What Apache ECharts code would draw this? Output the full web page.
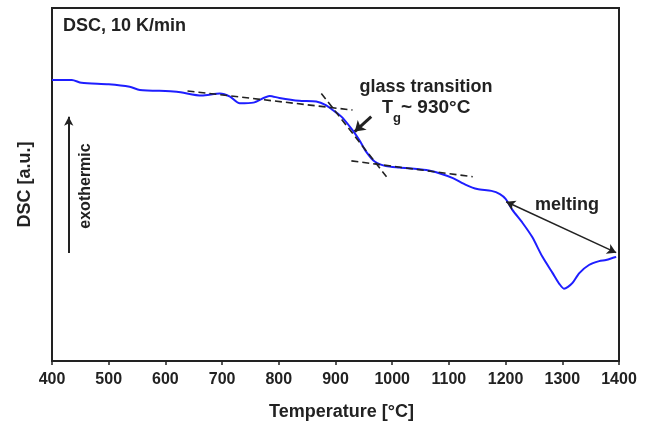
<!DOCTYPE html>
<html>
<head>
<meta charset="utf-8">
<script src="https://cdn.jsdelivr.net/npm/echarts@6/dist/echarts.min.js"></script>
<style>
html,body{margin:0;padding:0;background:#fff;}
#chart{width:651px;height:428px;}
</style>
</head>
<body>
<div id="chart"></div>
<script>
// Temperature [°C] and DSC signal [a.u.]
const temps = [400, 435, 452, 500, 537, 555, 620, 664, 696, 714, 731, 755, 784, 801, 836, 866, 883, 895, 907, 913, 930, 942, 954, 969, 989, 1013, 1060, 1083, 1107, 1130, 1150, 1175, 1190, 1200, 1212, 1230, 1247, 1265, 1283, 1295, 1303, 1310, 1318, 1330, 1347, 1365, 1377, 1391, 1395];
const dsc   = [79.6, 79.6, 78.8, 78.4, 77.7, 76.8, 76.3, 75.2, 75.8, 74.9, 73.0, 73.2, 75.1, 74.5, 73.7, 73.5, 72.5, 71.1, 69.7, 68.8, 65.4, 62.6, 59.3, 56.5, 55.2, 54.8, 54.1, 53.2, 51.8, 49.9, 48.7, 48.2, 47.3, 45.9, 42.8, 39.1, 35.1, 29.5, 24.9, 21.8, 20.5, 21.0, 22.1, 24.9, 27.2, 28.3, 28.6, 29.3, 29.5];
const xTicks = [400, 1400, 100];
// Tangent construction lines (start/end temperature, start/end DSC)
const tangentT = [[639, 930], [875, 990], [928, 1142]];
const tangentV = [[76.5, 71.1], [75.8, 52.2], [56.7, 52.2]];
// Annotation arrows (from, to)
const tgArrowT = [963, 934];
const tgArrowV = [69.2, 65.0];
const meltArrowT = [1201, 1395];
const meltArrowV = [45.1, 30.7];
const exoArrowT = [429.5, 429.5];
const exoArrowV = [30.6, 69.2];

const FONT = '"Liberation Sans", Arial, Helvetica, sans-serif';
const INK = '#222';

const chart = echarts.init(document.getElementById('chart'), null, {renderer: 'canvas'});

const series = [{
  type: 'line',
  data: temps.map((t, i) => [t, dsc[i]]),
  smooth: 0.25,
  showSymbol: false,
  lineStyle: {color: '#1e1eff', width: 2},
  z: 3
}];
tangentT.forEach((tt, k) => {
  series.push({
    type: 'line',
    data: [[tt[0], tangentV[k][0]], [tt[1], tangentV[k][1]]],
    showSymbol: false,
    lineStyle: {color: INK, width: 1.6, type: [7, 4]},
    z: 4
  });
});
function arrowSeries(T, V, width, symbols, size) {
  return {
    type: 'line',
    data: [],
    markLine: {
      silent: true,
      animation: false,
      symbol: symbols,
      symbolSize: size,
      label: {show: false},
      lineStyle: {color: INK, width: width, type: 'solid'},
      data: [[{coord: [T[0], V[0]]}, {coord: [T[1], V[1]]}]]
    },
    z: 5
  };
}
series.push(arrowSeries(tgArrowT, tgArrowV, 3, ['none', 'arrow'], [10, 10]));
series.push(arrowSeries(meltArrowT, meltArrowV, 1.5, ['arrow', 'arrow'], [8, 9]));
series.push(arrowSeries(exoArrowT, exoArrowV, 2, ['none', 'arrow'], [7, 9]));

const txt = (x, y, text, extra) => ({
  type: 'text', x: x, y: y, z: 10,
  style: Object.assign({text: text, font: 'bold 18px ' + FONT, fill: INK, textAlign: 'left', textVerticalAlign: 'middle'}, extra || {})
});

chart.setOption({
  animation: false,
  backgroundColor: '#fff',
  grid: {left: 52, right: 32, top: 8, bottom: 67, show: true, borderColor: INK, borderWidth: 2, containLabel: false},
  xAxis: {
    type: 'value', min: xTicks[0], max: xTicks[1], interval: xTicks[2],
    axisLine: {show: true, onZero: false, lineStyle: {color: INK, width: 2}},
    axisTick: {show: true, length: 4, lineStyle: {color: INK, width: 1.5}},
    axisLabel: {fontFamily: FONT, fontWeight: 'bold', fontSize: 16, color: INK, margin: 11, formatter: v => String(v)},
    splitLine: {show: false},
    name: 'Temperature [°C]', nameLocation: 'middle', nameGap: 42,
    nameTextStyle: {fontFamily: FONT, fontWeight: 'bold', fontSize: 18, color: INK, padding: [0, 0, 0, 12]}
  },
  yAxis: {
    type: 'value', min: 0, max: 100,
    axisLine: {show: true, lineStyle: {color: INK, width: 2}},
    axisTick: {show: false},
    axisLabel: {show: false},
    splitLine: {show: false},
    name: 'DSC [a.u.]', nameLocation: 'middle', nameGap: 18,
    nameTextStyle: {fontFamily: FONT, fontWeight: 'bold', fontSize: 18, color: INK}
  },
  graphic: [
    txt(63, 26, 'DSC, 10 K/min'),
    txt(426, 87, 'glass transition', {textAlign: 'center'}),
    txt(382, 108, 'T'),
    txt(393, 118, 'g', {font: 'bold 13px ' + FONT}),
    txt(401, 108, '~ 930°C', {font: 'bold 19px ' + FONT}),
    txt(535, 205, 'melting'),
    {type: 'text', x: 86, y: 186, rotation: Math.PI / 2, z: 10,
     style: {text: 'exothermic', font: 'bold 16px ' + FONT, fill: INK, textAlign: 'center', textVerticalAlign: 'middle'}}
  ],
  series: series
});
</script>
</body>
</html>
